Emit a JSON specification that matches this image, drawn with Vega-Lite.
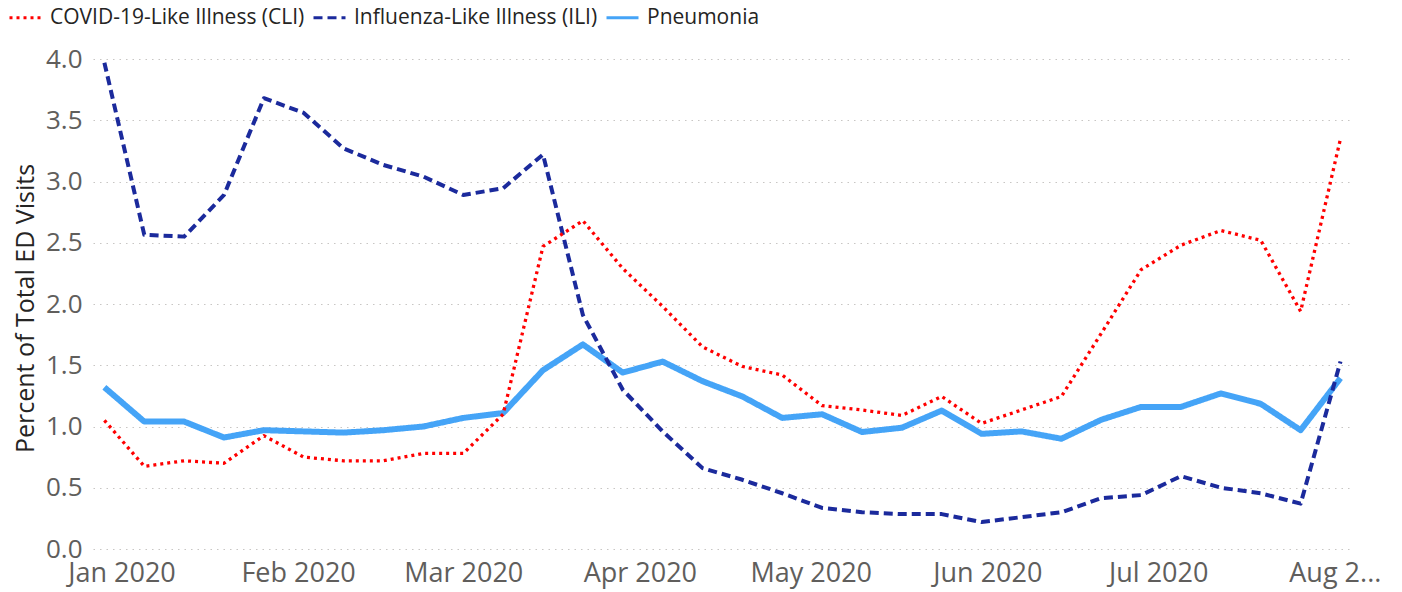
{
  "$schema": "https://vega.github.io/schema/vega-lite/v6.json",
  "width": 1257,
  "height": 490,
  "autosize": {"type": "none"},
  "padding": {"left": 93, "top": 59, "right": 52, "bottom": 43},
  "background": "#ffffff",
  "config": {
    "view": {"stroke": null},
    "font": "Segoe UI, Open Sans, sans-serif"
  },
  "datasets": {
    "ed": [
      {"week": "2019-12-29", "series": "Pneumonia", "pct": 1.32},
      {"week": "2020-01-05", "series": "Pneumonia", "pct": 1.04},
      {"week": "2020-01-12", "series": "Pneumonia", "pct": 1.04},
      {"week": "2020-01-19", "series": "Pneumonia", "pct": 0.91},
      {"week": "2020-01-26", "series": "Pneumonia", "pct": 0.97},
      {"week": "2020-02-02", "series": "Pneumonia", "pct": 0.96},
      {"week": "2020-02-09", "series": "Pneumonia", "pct": 0.95},
      {"week": "2020-02-16", "series": "Pneumonia", "pct": 0.97},
      {"week": "2020-02-23", "series": "Pneumonia", "pct": 1.0},
      {"week": "2020-03-01", "series": "Pneumonia", "pct": 1.07},
      {"week": "2020-03-08", "series": "Pneumonia", "pct": 1.11},
      {"week": "2020-03-15", "series": "Pneumonia", "pct": 1.46},
      {"week": "2020-03-22", "series": "Pneumonia", "pct": 1.67},
      {"week": "2020-03-29", "series": "Pneumonia", "pct": 1.44},
      {"week": "2020-04-05", "series": "Pneumonia", "pct": 1.53},
      {"week": "2020-04-12", "series": "Pneumonia", "pct": 1.37},
      {"week": "2020-04-19", "series": "Pneumonia", "pct": 1.245},
      {"week": "2020-04-26", "series": "Pneumonia", "pct": 1.07},
      {"week": "2020-05-03", "series": "Pneumonia", "pct": 1.1},
      {"week": "2020-05-10", "series": "Pneumonia", "pct": 0.955},
      {"week": "2020-05-17", "series": "Pneumonia", "pct": 0.99},
      {"week": "2020-05-24", "series": "Pneumonia", "pct": 1.13},
      {"week": "2020-05-31", "series": "Pneumonia", "pct": 0.94},
      {"week": "2020-06-07", "series": "Pneumonia", "pct": 0.96},
      {"week": "2020-06-14", "series": "Pneumonia", "pct": 0.9},
      {"week": "2020-06-21", "series": "Pneumonia", "pct": 1.055},
      {"week": "2020-06-28", "series": "Pneumonia", "pct": 1.16},
      {"week": "2020-07-05", "series": "Pneumonia", "pct": 1.16},
      {"week": "2020-07-12", "series": "Pneumonia", "pct": 1.27},
      {"week": "2020-07-19", "series": "Pneumonia", "pct": 1.185},
      {"week": "2020-07-26", "series": "Pneumonia", "pct": 0.97},
      {"week": "2020-08-02", "series": "Pneumonia", "pct": 1.395},
      {"week": "2019-12-29", "series": "Influenza-Like Illness (ILI)", "pct": 3.97},
      {"week": "2020-01-05", "series": "Influenza-Like Illness (ILI)", "pct": 2.565},
      {"week": "2020-01-12", "series": "Influenza-Like Illness (ILI)", "pct": 2.55},
      {"week": "2020-01-19", "series": "Influenza-Like Illness (ILI)", "pct": 2.89},
      {"week": "2020-01-26", "series": "Influenza-Like Illness (ILI)", "pct": 3.68},
      {"week": "2020-02-02", "series": "Influenza-Like Illness (ILI)", "pct": 3.56},
      {"week": "2020-02-09", "series": "Influenza-Like Illness (ILI)", "pct": 3.27},
      {"week": "2020-02-16", "series": "Influenza-Like Illness (ILI)", "pct": 3.135},
      {"week": "2020-02-23", "series": "Influenza-Like Illness (ILI)", "pct": 3.04},
      {"week": "2020-03-01", "series": "Influenza-Like Illness (ILI)", "pct": 2.89},
      {"week": "2020-03-08", "series": "Influenza-Like Illness (ILI)", "pct": 2.945},
      {"week": "2020-03-15", "series": "Influenza-Like Illness (ILI)", "pct": 3.22},
      {"week": "2020-03-22", "series": "Influenza-Like Illness (ILI)", "pct": 1.91},
      {"week": "2020-03-29", "series": "Influenza-Like Illness (ILI)", "pct": 1.3},
      {"week": "2020-04-05", "series": "Influenza-Like Illness (ILI)", "pct": 0.96},
      {"week": "2020-04-12", "series": "Influenza-Like Illness (ILI)", "pct": 0.66},
      {"week": "2020-04-19", "series": "Influenza-Like Illness (ILI)", "pct": 0.565},
      {"week": "2020-04-26", "series": "Influenza-Like Illness (ILI)", "pct": 0.455},
      {"week": "2020-05-03", "series": "Influenza-Like Illness (ILI)", "pct": 0.335},
      {"week": "2020-05-10", "series": "Influenza-Like Illness (ILI)", "pct": 0.3},
      {"week": "2020-05-17", "series": "Influenza-Like Illness (ILI)", "pct": 0.285},
      {"week": "2020-05-24", "series": "Influenza-Like Illness (ILI)", "pct": 0.285},
      {"week": "2020-05-31", "series": "Influenza-Like Illness (ILI)", "pct": 0.22},
      {"week": "2020-06-07", "series": "Influenza-Like Illness (ILI)", "pct": 0.26},
      {"week": "2020-06-14", "series": "Influenza-Like Illness (ILI)", "pct": 0.3},
      {"week": "2020-06-21", "series": "Influenza-Like Illness (ILI)", "pct": 0.415},
      {"week": "2020-06-28", "series": "Influenza-Like Illness (ILI)", "pct": 0.44},
      {"week": "2020-07-05", "series": "Influenza-Like Illness (ILI)", "pct": 0.595},
      {"week": "2020-07-12", "series": "Influenza-Like Illness (ILI)", "pct": 0.5},
      {"week": "2020-07-19", "series": "Influenza-Like Illness (ILI)", "pct": 0.455},
      {"week": "2020-07-26", "series": "Influenza-Like Illness (ILI)", "pct": 0.37},
      {"week": "2020-08-02", "series": "Influenza-Like Illness (ILI)", "pct": 1.53},
      {"week": "2019-12-29", "series": "COVID-19-Like Illness (CLI)", "pct": 1.05},
      {"week": "2020-01-05", "series": "COVID-19-Like Illness (CLI)", "pct": 0.675},
      {"week": "2020-01-12", "series": "COVID-19-Like Illness (CLI)", "pct": 0.72},
      {"week": "2020-01-19", "series": "COVID-19-Like Illness (CLI)", "pct": 0.7},
      {"week": "2020-01-26", "series": "COVID-19-Like Illness (CLI)", "pct": 0.925},
      {"week": "2020-02-02", "series": "COVID-19-Like Illness (CLI)", "pct": 0.75},
      {"week": "2020-02-09", "series": "COVID-19-Like Illness (CLI)", "pct": 0.72},
      {"week": "2020-02-16", "series": "COVID-19-Like Illness (CLI)", "pct": 0.72},
      {"week": "2020-02-23", "series": "COVID-19-Like Illness (CLI)", "pct": 0.78},
      {"week": "2020-03-01", "series": "COVID-19-Like Illness (CLI)", "pct": 0.78},
      {"week": "2020-03-08", "series": "COVID-19-Like Illness (CLI)", "pct": 1.1},
      {"week": "2020-03-15", "series": "COVID-19-Like Illness (CLI)", "pct": 2.47},
      {"week": "2020-03-22", "series": "COVID-19-Like Illness (CLI)", "pct": 2.68},
      {"week": "2020-03-29", "series": "COVID-19-Like Illness (CLI)", "pct": 2.29},
      {"week": "2020-04-05", "series": "COVID-19-Like Illness (CLI)", "pct": 1.98},
      {"week": "2020-04-12", "series": "COVID-19-Like Illness (CLI)", "pct": 1.65},
      {"week": "2020-04-19", "series": "COVID-19-Like Illness (CLI)", "pct": 1.49},
      {"week": "2020-04-26", "series": "COVID-19-Like Illness (CLI)", "pct": 1.42},
      {"week": "2020-05-03", "series": "COVID-19-Like Illness (CLI)", "pct": 1.17},
      {"week": "2020-05-10", "series": "COVID-19-Like Illness (CLI)", "pct": 1.135},
      {"week": "2020-05-17", "series": "COVID-19-Like Illness (CLI)", "pct": 1.09},
      {"week": "2020-05-24", "series": "COVID-19-Like Illness (CLI)", "pct": 1.245},
      {"week": "2020-05-31", "series": "COVID-19-Like Illness (CLI)", "pct": 1.025},
      {"week": "2020-06-07", "series": "COVID-19-Like Illness (CLI)", "pct": 1.135},
      {"week": "2020-06-14", "series": "COVID-19-Like Illness (CLI)", "pct": 1.245},
      {"week": "2020-06-21", "series": "COVID-19-Like Illness (CLI)", "pct": 1.76},
      {"week": "2020-06-28", "series": "COVID-19-Like Illness (CLI)", "pct": 2.28},
      {"week": "2020-07-05", "series": "COVID-19-Like Illness (CLI)", "pct": 2.48},
      {"week": "2020-07-12", "series": "COVID-19-Like Illness (CLI)", "pct": 2.6},
      {"week": "2020-07-19", "series": "COVID-19-Like Illness (CLI)", "pct": 2.52},
      {"week": "2020-07-26", "series": "COVID-19-Like Illness (CLI)", "pct": 1.94},
      {"week": "2020-08-02", "series": "COVID-19-Like Illness (CLI)", "pct": 3.35}
    ]
  },
  "data": {"name": "ed"},
  "encoding": {
    "x": {
      "field": "week",
      "type": "temporal",
      "scale": {
        "type": "utc",
        "domain": [
          {"year": 2019, "month": 12, "date": 27, "utc": true},
          {"year": 2020, "month": 8, "date": 3, "hours": 16, "utc": true}
        ]
      },
      "axis": {
        "title": null,
        "values": [
          {"year": 2020, "month": 1, "date": 1, "utc": true},
          {"year": 2020, "month": 2, "date": 1, "utc": true},
          {"year": 2020, "month": 3, "date": 1, "utc": true},
          {"year": 2020, "month": 4, "date": 1, "utc": true},
          {"year": 2020, "month": 5, "date": 1, "utc": true},
          {"year": 2020, "month": 6, "date": 1, "utc": true},
          {"year": 2020, "month": 7, "date": 1, "utc": true},
          {"year": 2020, "month": 8, "date": 1, "utc": true}
        ],
        "format": "%b %Y",
        "labelExpr": "datum.label == 'Aug 2020' ? 'Aug 2...' : datum.label",
        "grid": false,
        "domain": false,
        "ticks": false,
        "labelFlush": false,
        "labelOverlap": false,
        "labelFontSize": 27,
        "labelColor": "#605E5C",
        "labelPadding": 11
      }
    },
    "y": {
      "field": "pct",
      "type": "quantitative",
      "scale": {"domain": [0, 4], "nice": false},
      "axis": {
        "title": "Percent of Total ED Visits",
        "titleFontSize": 25,
        "titleFontWeight": "normal",
        "titleColor": "#252423",
        "titleX": -68,
        "titleY": 249,
        "titleBaseline": "middle",
        "values": [0, 0.5, 1, 1.5, 2, 2.5, 3, 3.5, 4],
        "format": ".1f",
        "domain": false,
        "ticks": false,
        "grid": true,
        "gridDash": [1.5, 5],
        "gridColor": "#C8C6C4",
        "gridWidth": 1.2,
        "labelFontSize": 26,
        "labelColor": "#605E5C",
        "labelPadding": 11
      }
    },
    "color": {
      "field": "series",
      "type": "nominal",
      "scale": {
        "domain": ["COVID-19-Like Illness (CLI)", "Influenza-Like Illness (ILI)", "Pneumonia"],
        "range": ["#FF0000", "#1B2A9C", "#45A4F7"]
      },
      "legend": {
        "orient": "none",
        "legendX": -85,
        "legendY": -59,
        "direction": "horizontal",
        "title": null,
        "symbolType": "stroke",
        "symbolSize": 1024,
        "symbolStrokeWidth": 3,
        "labelFontSize": 21,
        "labelColor": "#252423",
        "labelOffset": 7,
        "columnPadding": 2,
        "labelLimit": 400
      }
    },
    "strokeDash": {
      "field": "series",
      "type": "nominal",
      "scale": {
        "domain": ["COVID-19-Like Illness (CLI)", "Influenza-Like Illness (ILI)", "Pneumonia"],
        "range": [[3, 4], [9, 5], [1, 0]]
      }
    }
  },
  "layer": [
    {
      "transform": [{"filter": "datum.series == 'Pneumonia'"}],
      "mark": {"type": "line", "strokeWidth": 6, "strokeCap": "butt", "strokeJoin": "round"}
    },
    {
      "transform": [{"filter": "datum.series == 'Influenza-Like Illness (ILI)'"}],
      "mark": {"type": "line", "strokeWidth": 4, "strokeCap": "butt", "strokeJoin": "round"}
    },
    {
      "transform": [{"filter": "datum.series == 'COVID-19-Like Illness (CLI)'"}],
      "mark": {"type": "line", "strokeWidth": 3.3, "strokeCap": "butt", "strokeJoin": "round"}
    }
  ]
}
